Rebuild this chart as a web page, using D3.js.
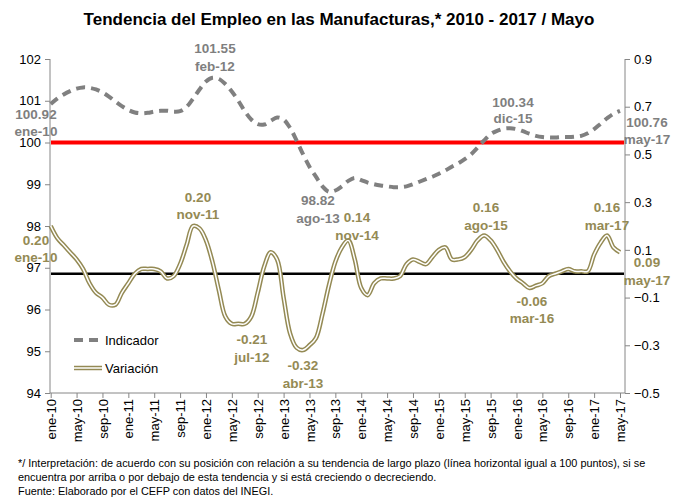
<!DOCTYPE html>
<html>
<head>
<meta charset="utf-8">
<script src="https://cdn.jsdelivr.net/npm/d3@7"></script>
<style>
  body { margin: 0; background: #fff; }
  svg { font-family: "Liberation Sans", Arial, sans-serif; }
</style>
</head>
<body>
<svg width="679" height="499"></svg>
<script>
// month names / years for the category axis
var mesNames = ['ene', 'feb', 'mar', 'abr', 'may', 'jun', 'jul', 'ago', 'sep', 'oct', 'nov', 'dic']
var years = [10, 11, 12, 13, 14, 15, 16, 17]

// Indicador (left axis), ene-10 .. may-17
var indicador = [
  100.92, 101.05, 101.15, 101.23, 101.29, 101.32, 101.31, 101.27, 101.20, 101.10, 100.98, 100.87,
  100.78, 100.72, 100.70, 100.71, 100.74, 100.76, 100.76, 100.74, 100.75, 100.85, 101.05, 101.27,
  101.46, 101.55, 101.52, 101.40, 101.22, 101.00, 100.75, 100.55, 100.44, 100.43, 100.52, 100.60,
  100.55, 100.35, 100.05, 99.72, 99.42, 99.18, 98.95, 98.82, 98.85, 98.95, 99.08, 99.15,
  99.10, 99.04, 99.00, 98.97, 98.95, 98.93, 98.93, 98.95, 99.00, 99.06, 99.12, 99.18,
  99.25, 99.33, 99.42, 99.50, 99.60, 99.72, 99.88, 100.05, 100.20, 100.28, 100.33, 100.34,
  100.32, 100.27, 100.21, 100.16, 100.13, 100.12, 100.12, 100.13, 100.13, 100.14, 100.16, 100.22,
  100.32, 100.45, 100.58, 100.69, 100.76
]

// Variación (right axis)
var variacion = [
  0.20, 0.15, 0.12, 0.09, 0.06, 0.02, -0.04, -0.08, -0.10, -0.13, -0.13, -0.08,
  -0.04, 0.00, 0.02, 0.02, 0.02, 0.01, -0.02, -0.01, 0.04, 0.12, 0.20, 0.19,
  0.14, 0.05, -0.07, -0.18, -0.21, -0.21, -0.21, -0.18, -0.08, 0.03, 0.09, 0.06,
  -0.10, -0.25, -0.31, -0.32, -0.30, -0.27, -0.17, -0.05, 0.05, 0.11, 0.14, 0.06,
  -0.06, -0.09, -0.04, -0.02, -0.02, -0.02, -0.01, 0.04, 0.06, 0.05, 0.04, 0.07,
  0.10, 0.11, 0.06, 0.06, 0.07, 0.10, 0.14, 0.16, 0.14, 0.10, 0.05, 0.01,
  -0.02, -0.04, -0.06, -0.05, -0.04, -0.01, 0.00, 0.01, 0.02, 0.01, 0.01, 0.01,
  0.08, 0.13, 0.16, 0.11, 0.09
]

var leftTicks = [94, 95, 96, 97, 98, 99, 100, 101, 102]
var rightTicks = [-0.5, -0.3, -0.1, 0.1, 0.3, 0.5, 0.7, 0.9]

// labelled points: [month index, value text, month text]
var indLabels = [[0, '100.92', 'ene-10'], [25, '101.55', 'feb-12'], [43, '98.82', 'ago-13'], [71, '100.34', 'dic-15'], [88, '100.76', 'may-17']]
var varLabels = [[0, '0.20', 'ene-10'], [22, '0.20', 'nov-11'], [30, '-0.21', 'jul-12'], [39, '-0.32', 'abr-13'],
  [46, '0.14', 'nov-14'], [67, '0.16', 'ago-15'], [74, '-0.06', 'mar-16'], [86, '0.16', 'mar-17'], [88, '0.09', 'may-17']]

// build month categories
var months = []
years.forEach(function (y) {
  mesNames.forEach(function (m) { months.push(m + '-' + y) })
})
months = months.slice(0, indicador.length)

var svg = d3.select('svg')
var gray = '#868686'
var olive = '#948A54'
var labelGray = '#7F7F7F'

var x = d3.scalePoint().domain(months).range([50.7, 620])
var yL = d3.scaleLinear().domain([94, 102]).range([393, 59])
var yR = d3.scaleLinear().domain([-0.5, 0.9]).range([393, 59])

// title
svg.append('text')
  .attr('x', 339).attr('y', 25)
  .attr('text-anchor', 'middle')
  .style('font-weight', 'bold').style('font-size', '17px')
  .text('Tendencia del Empleo en las Manufacturas,* 2010 - 2017 / Mayo')

// axes
var axL = svg.append('g').attr('transform', 'translate(50,0)')
  .call(d3.axisLeft(yL).tickValues(leftTicks).tickSize(5).tickPadding(4).tickFormat(d3.format('d')))
var axR = svg.append('g').attr('transform', 'translate(625,0)')
  .call(d3.axisRight(yR).tickValues(rightTicks).tickSize(5).tickPadding(4).tickFormat(d3.format('.1f')))
var axX = svg.append('g').attr('transform', 'translate(0,393)')
  .call(d3.axisBottom(x).tickValues(months.filter(function (d, i) { return i % 4 === 0 })).tickSize(5).tickSizeOuter(0))

;[axL, axR, axX].forEach(function (a) {
  a.selectAll('.domain').attr('stroke', gray)
  a.selectAll('.tick line').attr('stroke', gray)
  a.selectAll('text').style('font-size', '13px').style('font-family', '"Liberation Sans", Arial, sans-serif').attr('fill', '#000')
})
axL.select('.domain').attr('d', 'M0,393V59')
axR.select('.domain').attr('d', 'M0,393V59')
axX.select('.domain').attr('d', 'M50,0H625')
axX.selectAll('text')
  .attr('transform', 'rotate(-90)')
  .attr('text-anchor', 'end')
  .attr('x', -6).attr('y', 0).attr('dy', '0.35em')

// reference lines
svg.append('line')
  .attr('x1', 51).attr('x2', 624).attr('y1', yL(100)).attr('y2', yL(100))
  .attr('stroke', '#FF0000').attr('stroke-width', 4)
svg.append('line')
  .attr('x1', 51).attr('x2', 624).attr('y1', yR(0)).attr('y2', yR(0))
  .attr('stroke', '#000').attr('stroke-width', 2.5)

// lines
var lineL = d3.line().x(function (d, i) { return x(months[i]) }).y(function (d) { return yL(d) }).curve(d3.curveCatmullRom)
var lineR = d3.line().x(function (d, i) { return x(months[i]) }).y(function (d) { return yR(d) }).curve(d3.curveCatmullRom)

svg.append('path').attr('d', lineR(variacion))
  .attr('fill', 'none').attr('stroke', olive).attr('stroke-width', 4.5)
svg.append('path').attr('d', lineR(variacion))
  .attr('fill', 'none').attr('stroke', '#fff').attr('stroke-width', 1.5)

svg.append('path').attr('d', lineL(indicador))
  .attr('fill', 'none').attr('stroke', '#808080').attr('stroke-width', 4)
  .attr('stroke-dasharray', '9,6')

// data labels
var indPos = { 0: [36, 114, 131], 25: [215, 48, 66], 43: [318, 200, 218], 71: [513, 102, 118], 88: [647, 122, 139] }
var varPos = { 0: [36, 240, 257], 22: [198, 197, 214], 30: [252, 339, 357], 39: [303, 365, 383], 46: [357, 217, 235],
  67: [486, 207, 225], 74: [532, 301, 318], 86: [607, 207, 225], 88: [647, 262, 280] }

function drawLabels (list, pos, color) {
  list.forEach(function (l) {
    var p = pos[l[0]]
    var g = svg.append('g').style('font-weight', 'bold').style('font-size', '13.5px').attr('fill', color).attr('text-anchor', 'middle')
    g.append('text').attr('x', p[0]).attr('y', p[1]).attr('dy', '0.35em').text(l[1])
    g.append('text').attr('x', p[0]).attr('y', p[2]).attr('dy', '0.35em').text(l[2])
  })
}
drawLabels(indLabels, indPos, labelGray)
drawLabels(varLabels, varPos, olive)

// legend
var leg = svg.append('g')
leg.append('line').attr('x1', 74).attr('x2', 102).attr('y1', 340).attr('y2', 340)
  .attr('stroke', '#808080').attr('stroke-width', 4).attr('stroke-dasharray', '9,6')
leg.append('text').attr('x', 105).attr('y', 340).attr('dy', '0.35em').style('font-size', '13px').text('Indicador')
leg.append('line').attr('x1', 74).attr('x2', 102).attr('y1', 368).attr('y2', 368)
  .attr('stroke', olive).attr('stroke-width', 4.5)
leg.append('line').attr('x1', 74).attr('x2', 102).attr('y1', 368).attr('y2', 368)
  .attr('stroke', '#fff').attr('stroke-width', 1.5)
leg.append('text').attr('x', 105).attr('y', 368).attr('dy', '0.35em').style('font-size', '13px').text('Variación')

// footnote
var notes = [
  '*/ Interpretación: de acuerdo con su posición con relación a su tendencia de largo plazo (línea horizontal igual a 100 puntos), si se',
  'encuentra por arriba o por debajo de esta tendencia y si está creciendo o decreciendo.',
  'Fuente:  Elaborado por el CEFP con datos del INEGI.'
]
svg.append('g').selectAll('text').data(notes).enter().append('text')
  .attr('x', 18).attr('y', function (d, i) { return 467 + i * 14 })
  .style('font-size', '10.9px')
  .text(function (d) { return d })
</script>
</body>
</html>
